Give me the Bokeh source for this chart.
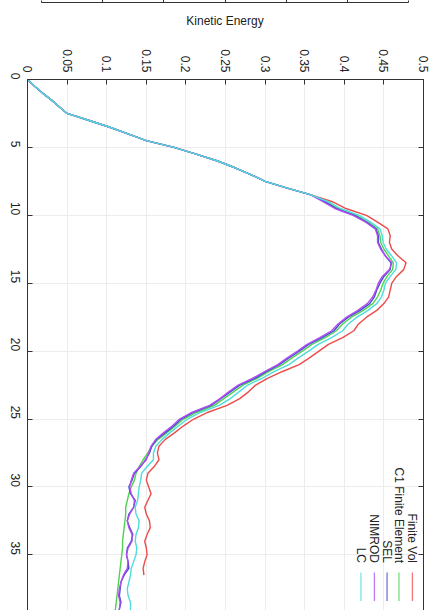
import math
from bokeh.plotting import figure
from bokeh.models import Range1d, FixedTicker, LinearAxis, Label
from bokeh.layouts import column
from bokeh.embed import file_html
from bokeh.resources import INLINE

# ---------------- data ----------------
series_names = ["Finite Vol", "C1 Finite Element", "SEL", "NIMROD", "LC"]
series_colors = ["#ec4b4b", "#4fd24f", "#4646d2", "#b04ef0", "#4fdcdc"]

# shared early rise, t = 0 .. 8.5 step 0.5
rise = [0.0, 0.009, 0.019, 0.030, 0.040, 0.050, 0.077, 0.103, 0.127, 0.150,
        0.185, 0.213, 0.240, 0.262, 0.282, 0.300, 0.328, 0.358]

# from t = 9.0 onward, step 0.5
finite_vol = [0.385, 0.402, 0.428, 0.442, 0.455, 0.458, 0.457, 0.460, 0.468, 0.478,
              0.475, 0.466, 0.460, 0.458, 0.456, 0.450, 0.441, 0.428, 0.418, 0.412,
              0.398, 0.380, 0.368, 0.356, 0.343, 0.322, 0.303, 0.288, 0.279, 0.268,
              0.252, 0.228, 0.210, 0.197, 0.186, 0.174, 0.166, 0.164, 0.166, 0.160,
              0.152, 0.150, 0.153, 0.156, 0.152, 0.148, 0.150, 0.154, 0.155, 0.151,
              0.148, 0.150, 0.151, 0.148, 0.146, 0.147]
c1_fe = [0.377, 0.392, 0.415, 0.430, 0.442, 0.445, 0.446, 0.450, 0.456, 0.462,
         0.461, 0.454, 0.449, 0.446, 0.442, 0.436, 0.424, 0.409, 0.398, 0.390,
         0.376, 0.359, 0.347, 0.334, 0.322, 0.305, 0.290, 0.272, 0.260, 0.248,
         0.236, 0.214, 0.197, 0.187, 0.176, 0.165, 0.157, 0.152, 0.146, 0.141,
         0.137, 0.135, 0.131, 0.128, 0.126, 0.124, 0.124, 0.123, 0.122, 0.121,
         0.120, 0.120, 0.119, 0.118, 0.117, 0.116, 0.115, 0.114, 0.113, 0.112,
         0.111, 0.110]
sel = [0.375, 0.390, 0.413, 0.428, 0.440, 0.443, 0.443, 0.447, 0.452, 0.459,
       0.458, 0.450, 0.445, 0.441, 0.438, 0.432, 0.420, 0.405, 0.394, 0.387,
       0.372, 0.355, 0.343, 0.330, 0.318, 0.302, 0.287, 0.268, 0.256, 0.244,
       0.232, 0.210, 0.194, 0.185, 0.174, 0.163, 0.157, 0.154, 0.149, 0.143,
       0.135, 0.132, 0.128, 0.130, 0.136, 0.134, 0.128, 0.126, 0.129, 0.133,
       0.131, 0.126, 0.125, 0.127, 0.128, 0.122, 0.118, 0.117, 0.116, 0.118,
       0.116, 0.114]
nimrod = [0.373, 0.388, 0.411, 0.427, 0.439, 0.442, 0.442, 0.446, 0.452, 0.460,
          0.457, 0.448, 0.443, 0.440, 0.436, 0.429, 0.417, 0.403, 0.392, 0.384,
          0.369, 0.353, 0.341, 0.328, 0.316, 0.300, 0.284, 0.266, 0.254, 0.243,
          0.230, 0.208, 0.192, 0.183, 0.172, 0.162, 0.156, 0.153, 0.150, 0.142,
          0.134, 0.131, 0.129, 0.131, 0.135, 0.134, 0.129, 0.126, 0.128, 0.132,
          0.132, 0.127, 0.125, 0.127, 0.126, 0.121, 0.118, 0.116, 0.115, 0.117,
          0.116, 0.114]
lc = [0.380, 0.395, 0.419, 0.433, 0.445, 0.448, 0.449, 0.453, 0.460, 0.466,
      0.465, 0.458, 0.452, 0.450, 0.447, 0.441, 0.430, 0.416, 0.405, 0.398,
      0.384, 0.367, 0.355, 0.342, 0.330, 0.312, 0.296, 0.278, 0.267, 0.256,
      0.242, 0.219, 0.202, 0.191, 0.180, 0.170, 0.162, 0.159, 0.159, 0.151,
      0.144, 0.143, 0.141, 0.140, 0.139, 0.136, 0.137, 0.141, 0.140, 0.137,
      0.136, 0.138, 0.137, 0.134, 0.131, 0.130, 0.128, 0.126, 0.127, 0.130,
      0.130, 0.128]

time_step = 0.5
time_ticks = [0, 5, 10, 15, 20, 25, 30, 35]
value_ticks = [0, 0.05, 0.1, 0.15, 0.2, 0.25, 0.3, 0.35, 0.4, 0.45, 0.5]
value_tick_labels = ["0", "0.05", "0.1", "0.15", "0.2", "0.25", "0.3", "0.35", "0.4", "0.45", "0.5"]
ke_ticks = [1, 2, 3, 4, 5]

FONT = "Liberation Sans"
AX = "#333333"
TXT = "#222222"
ROT = -math.pi / 2


def hide_labels(axis):
    axis.major_label_text_font_size = "1px"
    axis.major_label_text_color = None
    axis.major_label_standoff = 0


# ---------------- top strip (previous panel's axis) ----------------
top = figure(width=441, height=30, x_range=Range1d(0, 6), y_range=Range1d(0, 1),
             output_backend="svg", toolbar_location=None, y_axis_type=None,
             min_border_left=41, min_border_right=33, min_border_top=0, min_border_bottom=0)
top.frame_align = False
top.outline_line_color = None
top.grid.visible = False
xa = top.xaxis[0]
xa.ticker = FixedTicker(ticks=ke_ticks)
xa.major_tick_in = 5
xa.major_tick_out = 0
xa.minor_tick_line_color = None
hide_labels(xa)
xa.axis_label = "Kinetic Energy"
xa.axis_label_text_font = FONT
xa.axis_label_text_font_size = "12px"
xa.axis_label_text_font_style = "normal"
xa.axis_label_text_color = TXT
xa.axis_label_standoff = 11
xa.axis_line_color = AX
xa.major_tick_line_color = AX
for side in ("left", "right"):
    a = LinearAxis(ticker=FixedTicker(ticks=[]), axis_line_color=AX,
                   major_tick_line_color=None, minor_tick_line_color=None)
    hide_labels(a)
    top.add_layout(a, side)

# ---------------- main rotated panel ----------------
p = figure(width=441, height=580, x_range=Range1d(0, 0.5), y_range=Range1d(39.1, 0),
           x_axis_location="above", output_backend="svg", toolbar_location=None,
           min_border_left=27, min_border_right=18, min_border_top=49, min_border_bottom=0)
p.frame_align = False
p.outline_line_color = None
p.background_fill_color = "white"

all_vals = [finite_vol, c1_fe, sel, nimrod, lc]
for name, col, vals in zip(series_names, series_colors, all_vals):
    full = rise + vals
    t = [i * time_step for i in range(len(full))]
    p.line(full, t, line_color=col, line_width=1.4)

va = p.xaxis[0]
va.ticker = FixedTicker(ticks=value_ticks)
va.major_label_overrides = {v: s for v, s in zip(value_ticks, value_tick_labels)}
ta = p.yaxis[0]
ta.ticker = FixedTicker(ticks=time_ticks)
for a in (va, ta):
    a.major_label_orientation = ROT
    a.major_label_text_font = FONT
    a.major_label_text_font_size = "12px"
    a.major_label_text_color = TXT
va.major_label_standoff = 7
ta.major_label_standoff = 12
ra = LinearAxis(ticker=FixedTicker(ticks=time_ticks))
hide_labels(ra)
p.add_layout(ra, "right")
for a in (va, ta, ra):
    a.major_tick_in = 5
    a.major_tick_out = 0
    a.minor_tick_line_color = None
    a.axis_line_color = AX
    a.major_tick_line_color = AX

p.xgrid.ticker = FixedTicker(ticks=value_ticks)
p.ygrid.ticker = FixedTicker(ticks=time_ticks)
p.grid.grid_line_color = "#ececec"
p.grid.grid_line_width = 1

# rotated legend (upper right of original -> lower right here)
leg_x = [0.486, 0.469, 0.454, 0.438, 0.421]
leg_text_end = 35.6
leg_line = (36.3, 38.4)
for name, col, lx in zip(series_names, series_colors, leg_x):
    p.add_layout(Label(x=lx, y=leg_text_end, text=name, angle=ROT,
                       text_align="right", text_baseline="middle",
                       text_font=FONT, text_font_size="12px", text_color=TXT))
    p.segment(x0=[lx], y0=[leg_line[0]], x1=[lx], y1=[leg_line[1]],
              line_color=col, line_width=1.3, line_alpha=0.75)

layout = column(top, p, spacing=0)
open("out.html", "w").write(file_html(layout, INLINE))
